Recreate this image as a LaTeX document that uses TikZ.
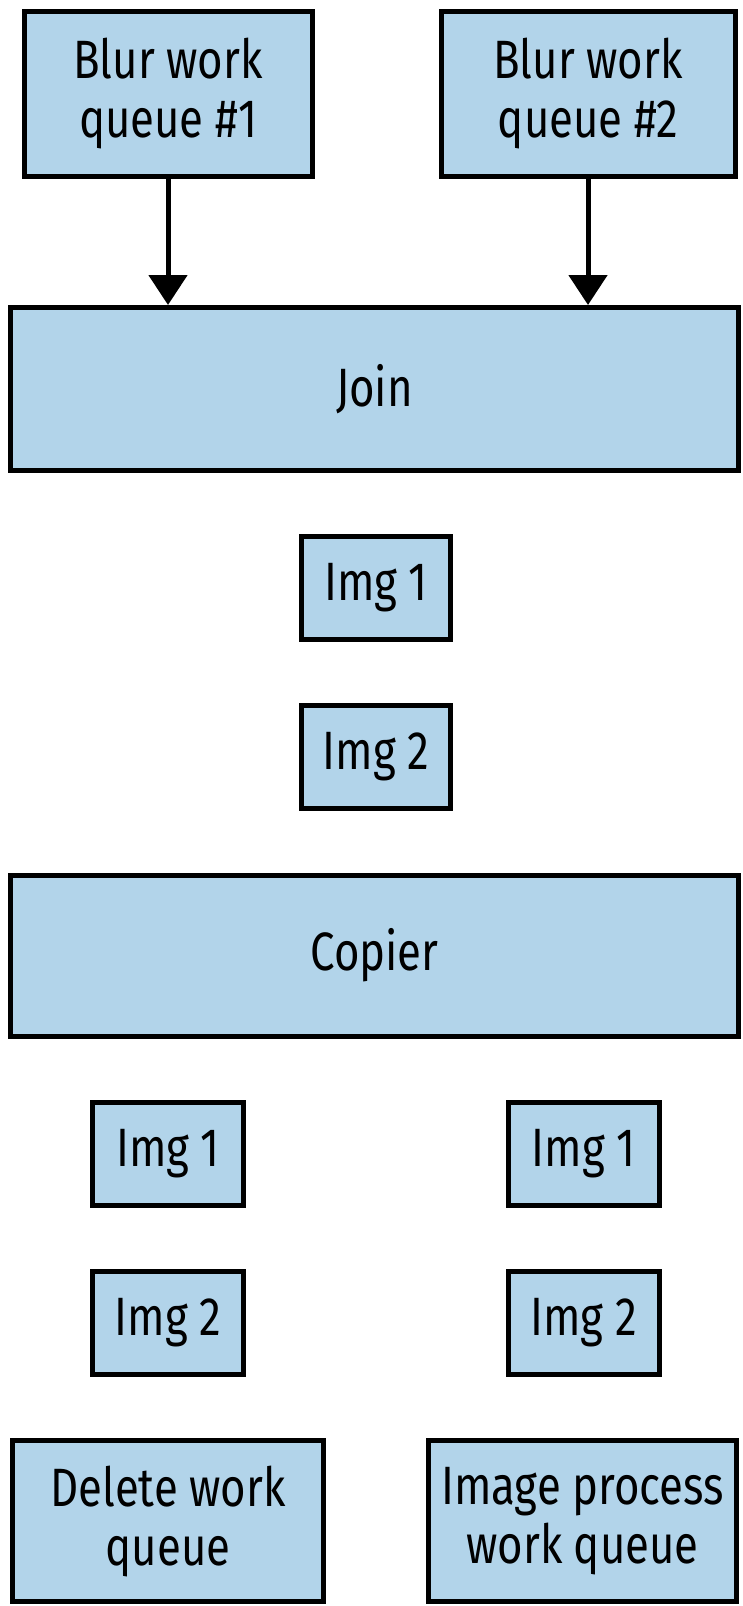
\documentclass[tikz,border=0pt]{standalone}
\usepackage{fontspec}
\setmainfont[FakeStretch=0.81]{Fira Sans}
\usetikzlibrary{arrows.meta}
\definecolor{boxfill}{HTML}{B2D4EA}
\tikzset{
  box/.style={draw=black, fill=boxfill, line width=5pt, inner sep=0pt, align=center,
    font=\fontsize{54}{59}\selectfont},
  arr/.style={line width=5pt, -{Triangle[width=38pt,length=30pt]}}
}
\begin{document}
\begin{tikzpicture}[x=1pt,y=-1pt]
\useasboundingbox (0,0) rectangle (743,1606);
\node[box, minimum width=288pt, minimum height=165pt] (b1) at (168,93.5) {Blur work\\queue \#1};
\node[box, minimum width=294pt, minimum height=165pt] (b2) at (588,93.5) {Blur work\\queue \#2};
\node[box, minimum width=728pt, minimum height=163pt] (j) at (374.5,389) {Join};
\node[box, minimum width=149pt, minimum height=103pt] (i1) at (376,588) {Img 1};
\node[box, minimum width=149pt, minimum height=103pt] (i2) at (376,756.5) {Img 2};
\node[box, minimum width=728pt, minimum height=161pt] (c) at (374.5,955.5) {Copier};
\node[box, minimum width=151pt, minimum height=103pt] (li1) at (168,1153.5) {Img 1};
\node[box, minimum width=151pt, minimum height=103pt] (li2) at (168,1322.5) {Img 2};
\node[box, minimum width=151pt, minimum height=103pt] (ri1) at (583.5,1153.5) {Img 1};
\node[box, minimum width=151pt, minimum height=103pt] (ri2) at (583.5,1322.5) {Img 2};
\node[box, minimum width=311pt, minimum height=161pt] (d) at (168,1521) {Delete work\\queue};
\node[box, minimum width=308pt, minimum height=161pt] (p) at (582.5,1521) {Image process\\work queue};
\draw[arr] (b1.south) -- (b1.south |- j.north);
\draw[arr] (b2.south) -- (b2.south |- j.north);
\end{tikzpicture}
\end{document}
